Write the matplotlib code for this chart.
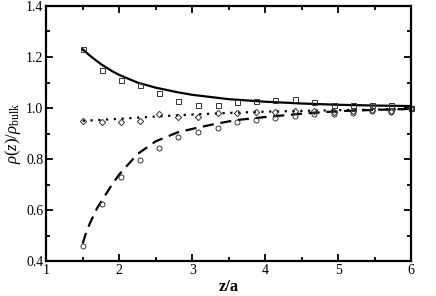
import numpy as np
import matplotlib
matplotlib.use('Agg')
import matplotlib.pyplot as plt

plt.rcParams['font.family'] = 'Liberation Serif'
plt.rcParams['mathtext.fontset'] = 'custom'
plt.rcParams['mathtext.rm'] = 'Liberation Serif'
plt.rcParams['mathtext.it'] = 'Liberation Serif:italic'

# simulation points
z_pts = [1.5, 1.76, 2.02, 2.29, 2.55, 2.81, 3.08, 3.35, 3.61, 3.88, 4.14, 4.41, 4.67, 4.94, 5.2, 5.47, 5.73, 6.0]
sq = [1.23, 1.15, 1.11, 1.089, 1.059, 1.029, 1.013, 1.013, 1.024, 1.026, 1.032, 1.034, 1.022, 1.012, 1.014, 1.014, 1.014, 1.0]
dia = [0.95, 0.945, 0.945, 0.951, 0.976, 0.967, 0.965, 0.979, 0.98, 0.983, 0.985, 0.988, 0.99, 0.985, 0.99, 0.993, 0.99, 1.0]
circ = [0.46, 0.625, 0.73, 0.795, 0.843, 0.885, 0.908, 0.924, 0.945, 0.955, 0.962, 0.968, 0.975, 0.975, 0.98, 0.988, 0.985, 0.995]

# theory curves
z_solid = [1.5, 1.6, 1.75, 1.9, 2.0, 2.25, 2.5, 2.8, 3.0, 3.5, 4.0, 4.5, 5.0, 5.5, 6.0]
solid = [1.23, 1.205, 1.172, 1.145, 1.13, 1.10, 1.08, 1.062, 1.052, 1.035, 1.025, 1.018, 1.013, 1.01, 1.008]
z_dash = [1.5, 1.55, 1.6, 1.7, 1.8, 1.9, 2.0, 2.25, 2.5, 2.8, 3.1, 3.35, 3.6, 4.0, 4.5, 5.0, 5.5, 6.0]
dash = [0.47, 0.515, 0.55, 0.61, 0.655, 0.70, 0.74, 0.82, 0.87, 0.905, 0.925, 0.94, 0.953, 0.965, 0.978, 0.988, 0.993, 0.997]
z_dot = [1.5, 2.0, 2.5, 3.0, 3.5, 4.0, 4.5, 5.0, 5.5, 6.0]
dot = [0.950, 0.958, 0.967, 0.975, 0.981, 0.986, 0.989, 0.992, 0.994, 0.996]

fig = plt.figure(figsize=(4.36, 2.96), dpi=100)
ax = fig.add_axes([0.106, 0.117, 0.837, 0.863])

ax.plot(z_solid, solid, 'k-', lw=1.6)
ax.plot(z_dash, dash, 'k--', lw=1.6, dashes=(5, 3))
ax.plot(z_dot, dot, 'k:', lw=1.6, dashes=(1, 2.5))

mk = dict(ls='none', mfc='none', mec='#333333', mew=0.7, clip_on=False)
ax.plot(z_pts, sq, marker='s', ms=3.6, **mk)
ax.plot(z_pts, dia, marker='D', ms=3.2, **mk)
ax.plot(z_pts, circ, marker='o', ms=3.6, **mk)

ax.set_xlim(1, 6)
ax.set_ylim(0.4, 1.4)
ax.set_xticks([1, 2, 3, 4, 5, 6])
ax.set_xticks(np.arange(1.5, 6, 1.0), minor=True)
ax.set_yticks(np.arange(0.4, 1.41, 0.2))
ax.set_yticks(np.arange(0.5, 1.4, 0.2), minor=True)
ax.set_yticklabels(['0.4', '0.6', '0.8', '1.0', '1.2', '1.4'])
ax.tick_params(which='both', direction='in', top=True, right=True, labelsize=10, width=1.3, pad=2)
ax.tick_params(which='major', length=5)
ax.tick_params(which='minor', length=3)
for s in ax.spines.values():
    s.set_linewidth(1.6)

ax.set_xlabel('z/a', fontsize=12, fontweight='bold', labelpad=1)
ax.set_ylabel(r'$\rho(z)/\rho_{\rm bulk}$', fontsize=12, labelpad=2)

fig.savefig('out.png', dpi=100)
